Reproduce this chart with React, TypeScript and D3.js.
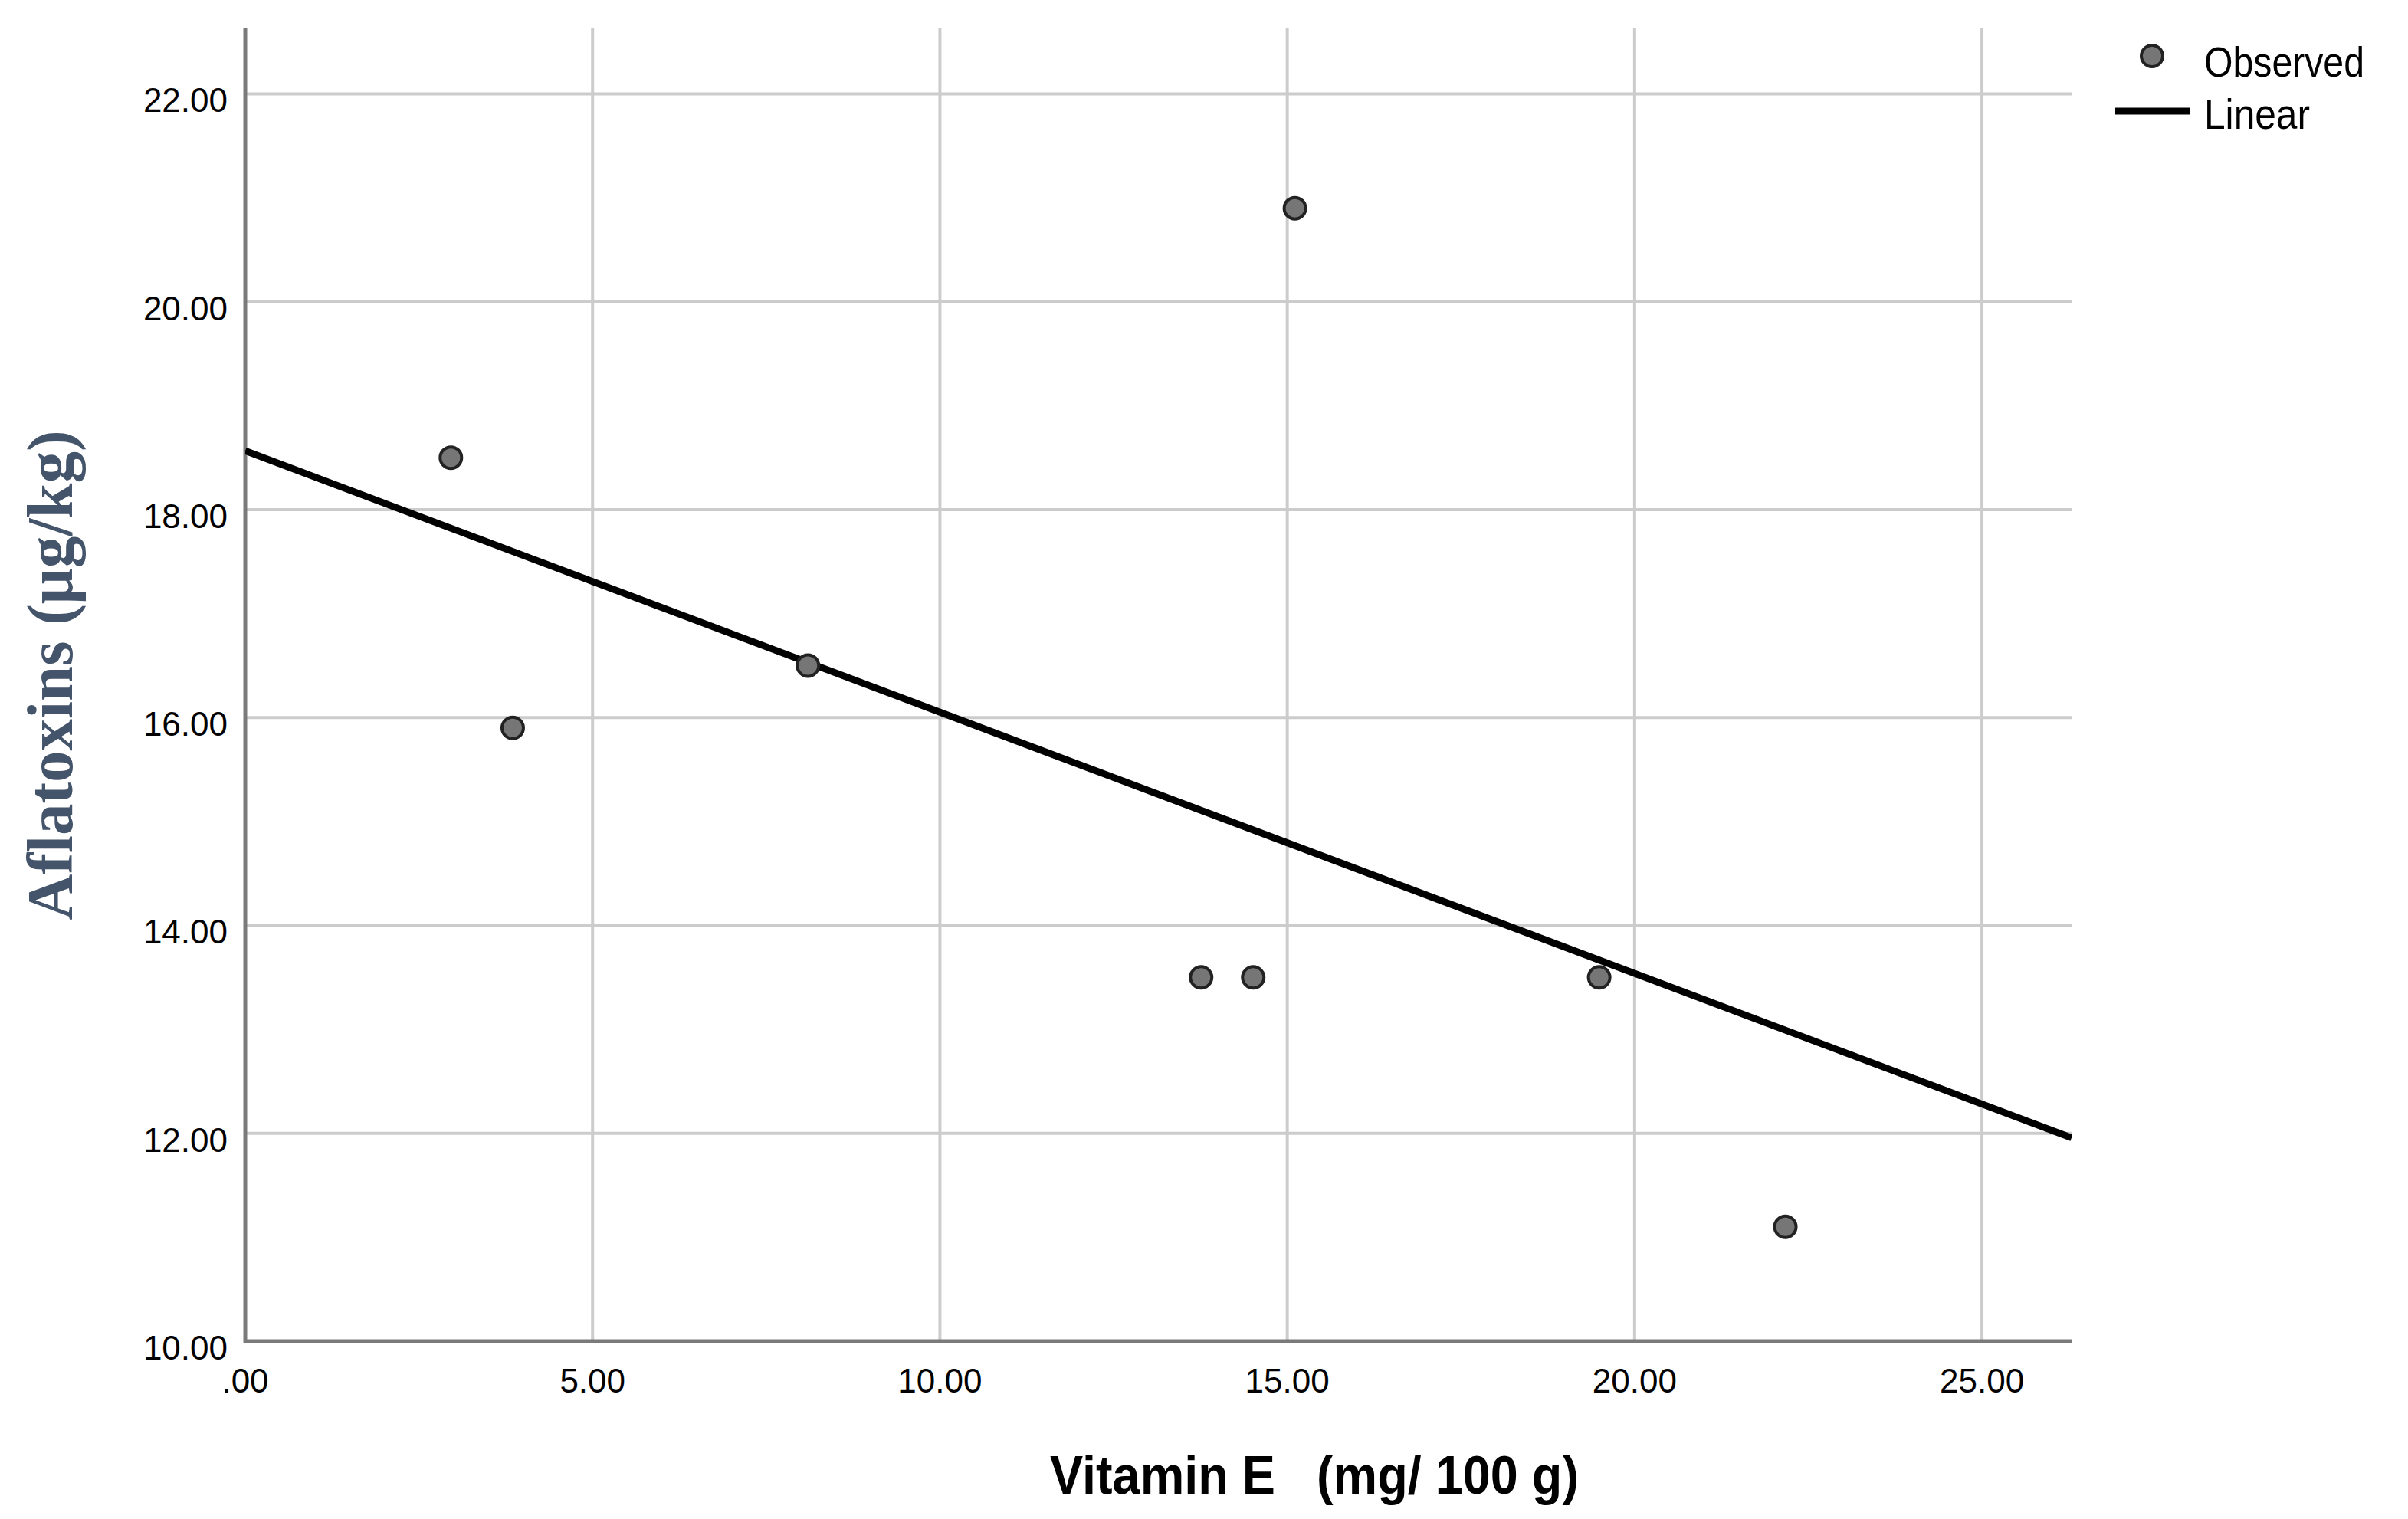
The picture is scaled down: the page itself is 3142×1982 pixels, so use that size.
import React from "react";
import * as d3 from "d3";

const vitaminE = [2.96, 3.85, 8.1, 13.76, 14.51, 15.11, 19.49, 22.17];
const aflatoxins = [18.5, 15.9, 16.5, 13.5, 13.5, 20.9, 13.5, 11.1];
const xTicks = [0, 5, 10, 15, 20, 25];
const yTicks = [10, 12, 14, 16, 18, 20, 22];
const xDomain = [0, 26.29];
const yDomain = [10, 22.63];
const legendLabels = ["Observed", "Linear"];

const W = 3142;
const H = 1982;
const M = { left: 320, right: 2703, top: 37, bottom: 1750 };

function fmt(v: number) {
  const s = v.toFixed(2);
  return s.startsWith("0") ? s.slice(1) : s;
}

export default function App() {
  const x = d3.scaleLinear().domain(xDomain).range([M.left, M.right]);
  const y = d3.scaleLinear().domain(yDomain).range([M.bottom, M.top]);

  const mx = d3.mean(vitaminE)!;
  const my = d3.mean(aflatoxins)!;
  const sxy = d3.sum(vitaminE.map((v, i) => (v - mx) * (aflatoxins[i] - my)));
  const sxx = d3.sum(vitaminE.map((v) => (v - mx) ** 2));
  const slope = sxy / sxx;
  const intercept = my - slope * mx;
  const lineData: [number, number][] = [
    [xDomain[0], intercept + slope * xDomain[0]],
    [xDomain[1], intercept + slope * xDomain[1]],
  ];
  const line = d3
    .line<[number, number]>()
    .x((d) => x(d[0]))
    .y((d) => y(d[1]));

  const gridColor = "#cccccc";
  const axisColor = "#7a7a7a";

  return (
    <svg
      width={W}
      height={H}
      viewBox={`0 0 ${W} ${H}`}
      style={{ position: "absolute", left: 0, top: 0, background: "#fff" }}
    >
      <rect x={0} y={0} width={W} height={H} fill="#fff" />
      <defs>
        <clipPath id="plot">
          <rect x={M.left} y={M.top} width={M.right - M.left} height={M.bottom - M.top} />
        </clipPath>
      </defs>
      {/* grid */}
      {xTicks
        .filter((t) => t > 0)
        .map((t) => (
          <line key={"gx" + t} x1={x(t)} x2={x(t)} y1={M.top} y2={M.bottom} stroke={gridColor} strokeWidth={4} />
        ))}
      {yTicks
        .filter((t) => t > 10)
        .map((t) => (
          <line key={"gy" + t} x1={M.left} x2={M.right} y1={y(t)} y2={y(t)} stroke={gridColor} strokeWidth={4} />
        ))}
      {/* axes */}
      <line x1={M.left} x2={M.left} y1={M.top} y2={M.bottom + 2} stroke={axisColor} strokeWidth={5} />
      <line x1={M.left - 2} x2={M.right} y1={M.bottom} y2={M.bottom} stroke={axisColor} strokeWidth={5} />
      {/* tick labels */}
      {yTicks.map((t) => (
        <text
          key={"yl" + t}
          x={297}
          y={y(t) + 24}
          textAnchor="end"
          fontFamily="Arial, 'Liberation Sans', sans-serif"
          fontSize={44}
          fill="#000"
        >
          {fmt(t)}
        </text>
      ))}
      {xTicks.map((t) => (
        <text
          key={"xl" + t}
          x={x(t)}
          y={1817}
          textAnchor="middle"
          fontFamily="Arial, 'Liberation Sans', sans-serif"
          fontSize={44}
          fill="#000"
        >
          {fmt(t)}
        </text>
      ))}
      {/* regression line */}
      <path d={line(lineData)!} stroke="#000" strokeWidth={9} fill="none" clipPath="url(#plot)" />
      {/* points */}
      {vitaminE.map((v, i) => (
        <circle key={"p" + i} cx={x(v)} cy={y(aflatoxins[i])} r={14} fill="#767676" stroke="#222" strokeWidth={4} />
      ))}
      {/* legend */}
      <circle cx={2808} cy={73} r={14} fill="#767676" stroke="#222" strokeWidth={4} />
      <text
        x={2876}
        y={100}
        fontFamily="Arial, 'Liberation Sans', sans-serif"
        fontSize={56}
        textLength={209}
        lengthAdjust="spacingAndGlyphs"
        fill="#000"
      >
        {legendLabels[0]}
      </text>
      <line x1={2760} x2={2857} y1={145} y2={145} stroke="#000" strokeWidth={9} />
      <text
        x={2876}
        y={168}
        fontFamily="Arial, 'Liberation Sans', sans-serif"
        fontSize={56}
        textLength={138}
        lengthAdjust="spacingAndGlyphs"
        fill="#000"
      >
        {legendLabels[1]}
      </text>
      {/* x title */}
      <text
        x={1370}
        y={1949}
        fontFamily="Arial, 'Liberation Sans', sans-serif"
        fontWeight="bold"
        fontSize={71}
        textLength={690}
        lengthAdjust="spacingAndGlyphs"
        style={{ whiteSpace: "pre" }}
        fill="#000"
      >
        {"Vitamin E   (mg/ 100 g)"}
      </text>
      {/* y title */}
      <text
        transform="translate(94,881) rotate(-90)"
        textAnchor="middle"
        fontFamily="'Times New Roman', 'Liberation Serif', serif"
        fontWeight="bold"
        fontSize={85}
        textLength={639}
        lengthAdjust="spacingAndGlyphs"
        fill="#44546a"
      >
        Aflatoxins (μg/kg)
      </text>
    </svg>
  );
}
